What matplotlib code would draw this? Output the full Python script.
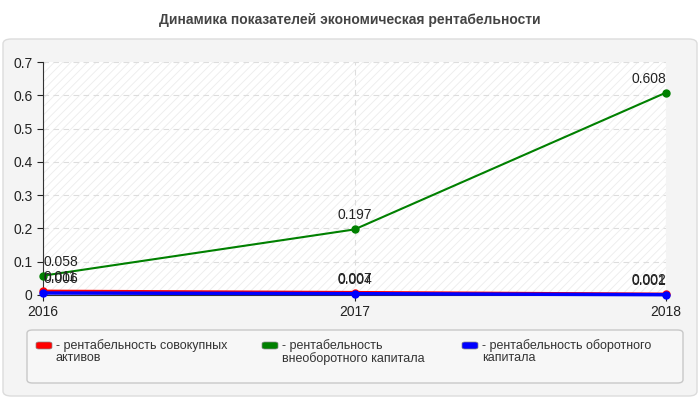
import matplotlib
matplotlib.use("Agg")
import matplotlib.pyplot as plt
from matplotlib.patches import FancyBboxPatch, Rectangle

years = [2016, 2017, 2018]
series_names = ["рентабельность совокупных\nактивов",
                "рентабельность\nвнеоборотного капитала",
                "рентабельность оборотного\nкапитала"]
red_vals = [0.011, 0.007, 0.002]
green_vals = [0.058, 0.197, 0.608]
blue_vals = [0.006, 0.004, 0.001]
colors = ["#ff0000", "#008000", "#0000ff"]
title = "Динамика показателей экономическая рентабельности"

plt.rcParams['font.family'] = ['Liberation Sans', 'DejaVu Sans']
plt.rcParams['hatch.linewidth'] = 0.6

fig = plt.figure(figsize=(7, 4), dpi=100)
fig.patch.set_facecolor("white")

# outer panel
panel = FancyBboxPatch((3/700, 4/400), 694/700, 357/400,
                       boxstyle="round,pad=0,rounding_size=0.012",
                       transform=fig.transFigure, facecolor="#f4f4f4",
                       edgecolor="#dcdcdc", linewidth=1, zorder=-10)
fig.patches.append(panel)

fig.text(0.5, 1 - 20/400, title, ha="center", va="center",
         fontsize=10, fontweight="bold", color="#444444")

ax = fig.add_axes([43/700, (400-295)/400, (666-43)/700, (295-62)/400])
ax.set_zorder(1)
ax.set_facecolor("white")
ax.add_patch(Rectangle((0, 0), 1, 1, transform=ax.transAxes, facecolor="none",
                       edgecolor="#ececec", hatch="////", linewidth=0, zorder=0))

ax.set_xlim(2016, 2018)
ax.set_ylim(0, 0.7)
ax.set_yticks([0, 0.1, 0.2, 0.3, 0.4, 0.5, 0.6, 0.7])
ax.set_yticklabels(["0", "0.1", "0.2", "0.3", "0.4", "0.5", "0.6", "0.7"])
ax.set_xticks(years)
ax.set_xticklabels([str(y) for y in years])
ax.tick_params(axis="both", labelsize=10, colors="#222222", length=4)
ax.tick_params(axis="x", pad=3)
ax.grid(True, axis="y", linestyle=(0, (5, 4)), color="#dddddd", linewidth=0.8)
ax.grid(True, axis="x", linestyle=(0, (5, 4)), color="#dddddd", linewidth=0.8)
for s in ["top", "right"]:
    ax.spines[s].set_visible(False)
for s in ["left", "bottom"]:
    ax.spines[s].set_color("#333333")

for vals, c, lw in [(green_vals, colors[1], 1.5), (red_vals, colors[0], 2.5),
                    (blue_vals, colors[2], 2.5)]:
    ax.plot(years, vals, color=c, linewidth=lw, marker="o", markersize=5,
            clip_on=False, zorder=3)
    for x, v in zip(years, vals):
        ha = "left" if x == years[0] else ("right" if x == years[-1] else "center")
        ax.annotate(f"{v:g}", (x, v), xytext=(0, 5), textcoords="offset points",
                    ha=ha, va="bottom", fontsize=10, color="#222222", zorder=4)

# legend box
lbox = FancyBboxPatch((27/700, (400-383)/400), 656/700, 53/400,
                      boxstyle="round,pad=0,rounding_size=0.008",
                      transform=fig.transFigure, facecolor="#f7f7f7",
                      edgecolor="#c8c8c8", linewidth=1, zorder=-5)
fig.patches.append(lbox)
leg_x = [36, 262, 462]
for lx, name, c in zip(leg_x, series_names, colors):
    fig.patches.append(FancyBboxPatch((lx/700, (400-349)/400), 16/700, 7/400,
                                      boxstyle="round,pad=0,rounding_size=0.004",
                                      transform=fig.transFigure, facecolor=c,
                                      edgecolor="#888888", linewidth=0.5, zorder=-4))
    fig.text((lx+20)/700, 1 - 339/400, "- " + name, ha="left", va="top",
             fontsize=9, color="#333333", linespacing=1.05)

fig.savefig("out.png", dpi=100)
